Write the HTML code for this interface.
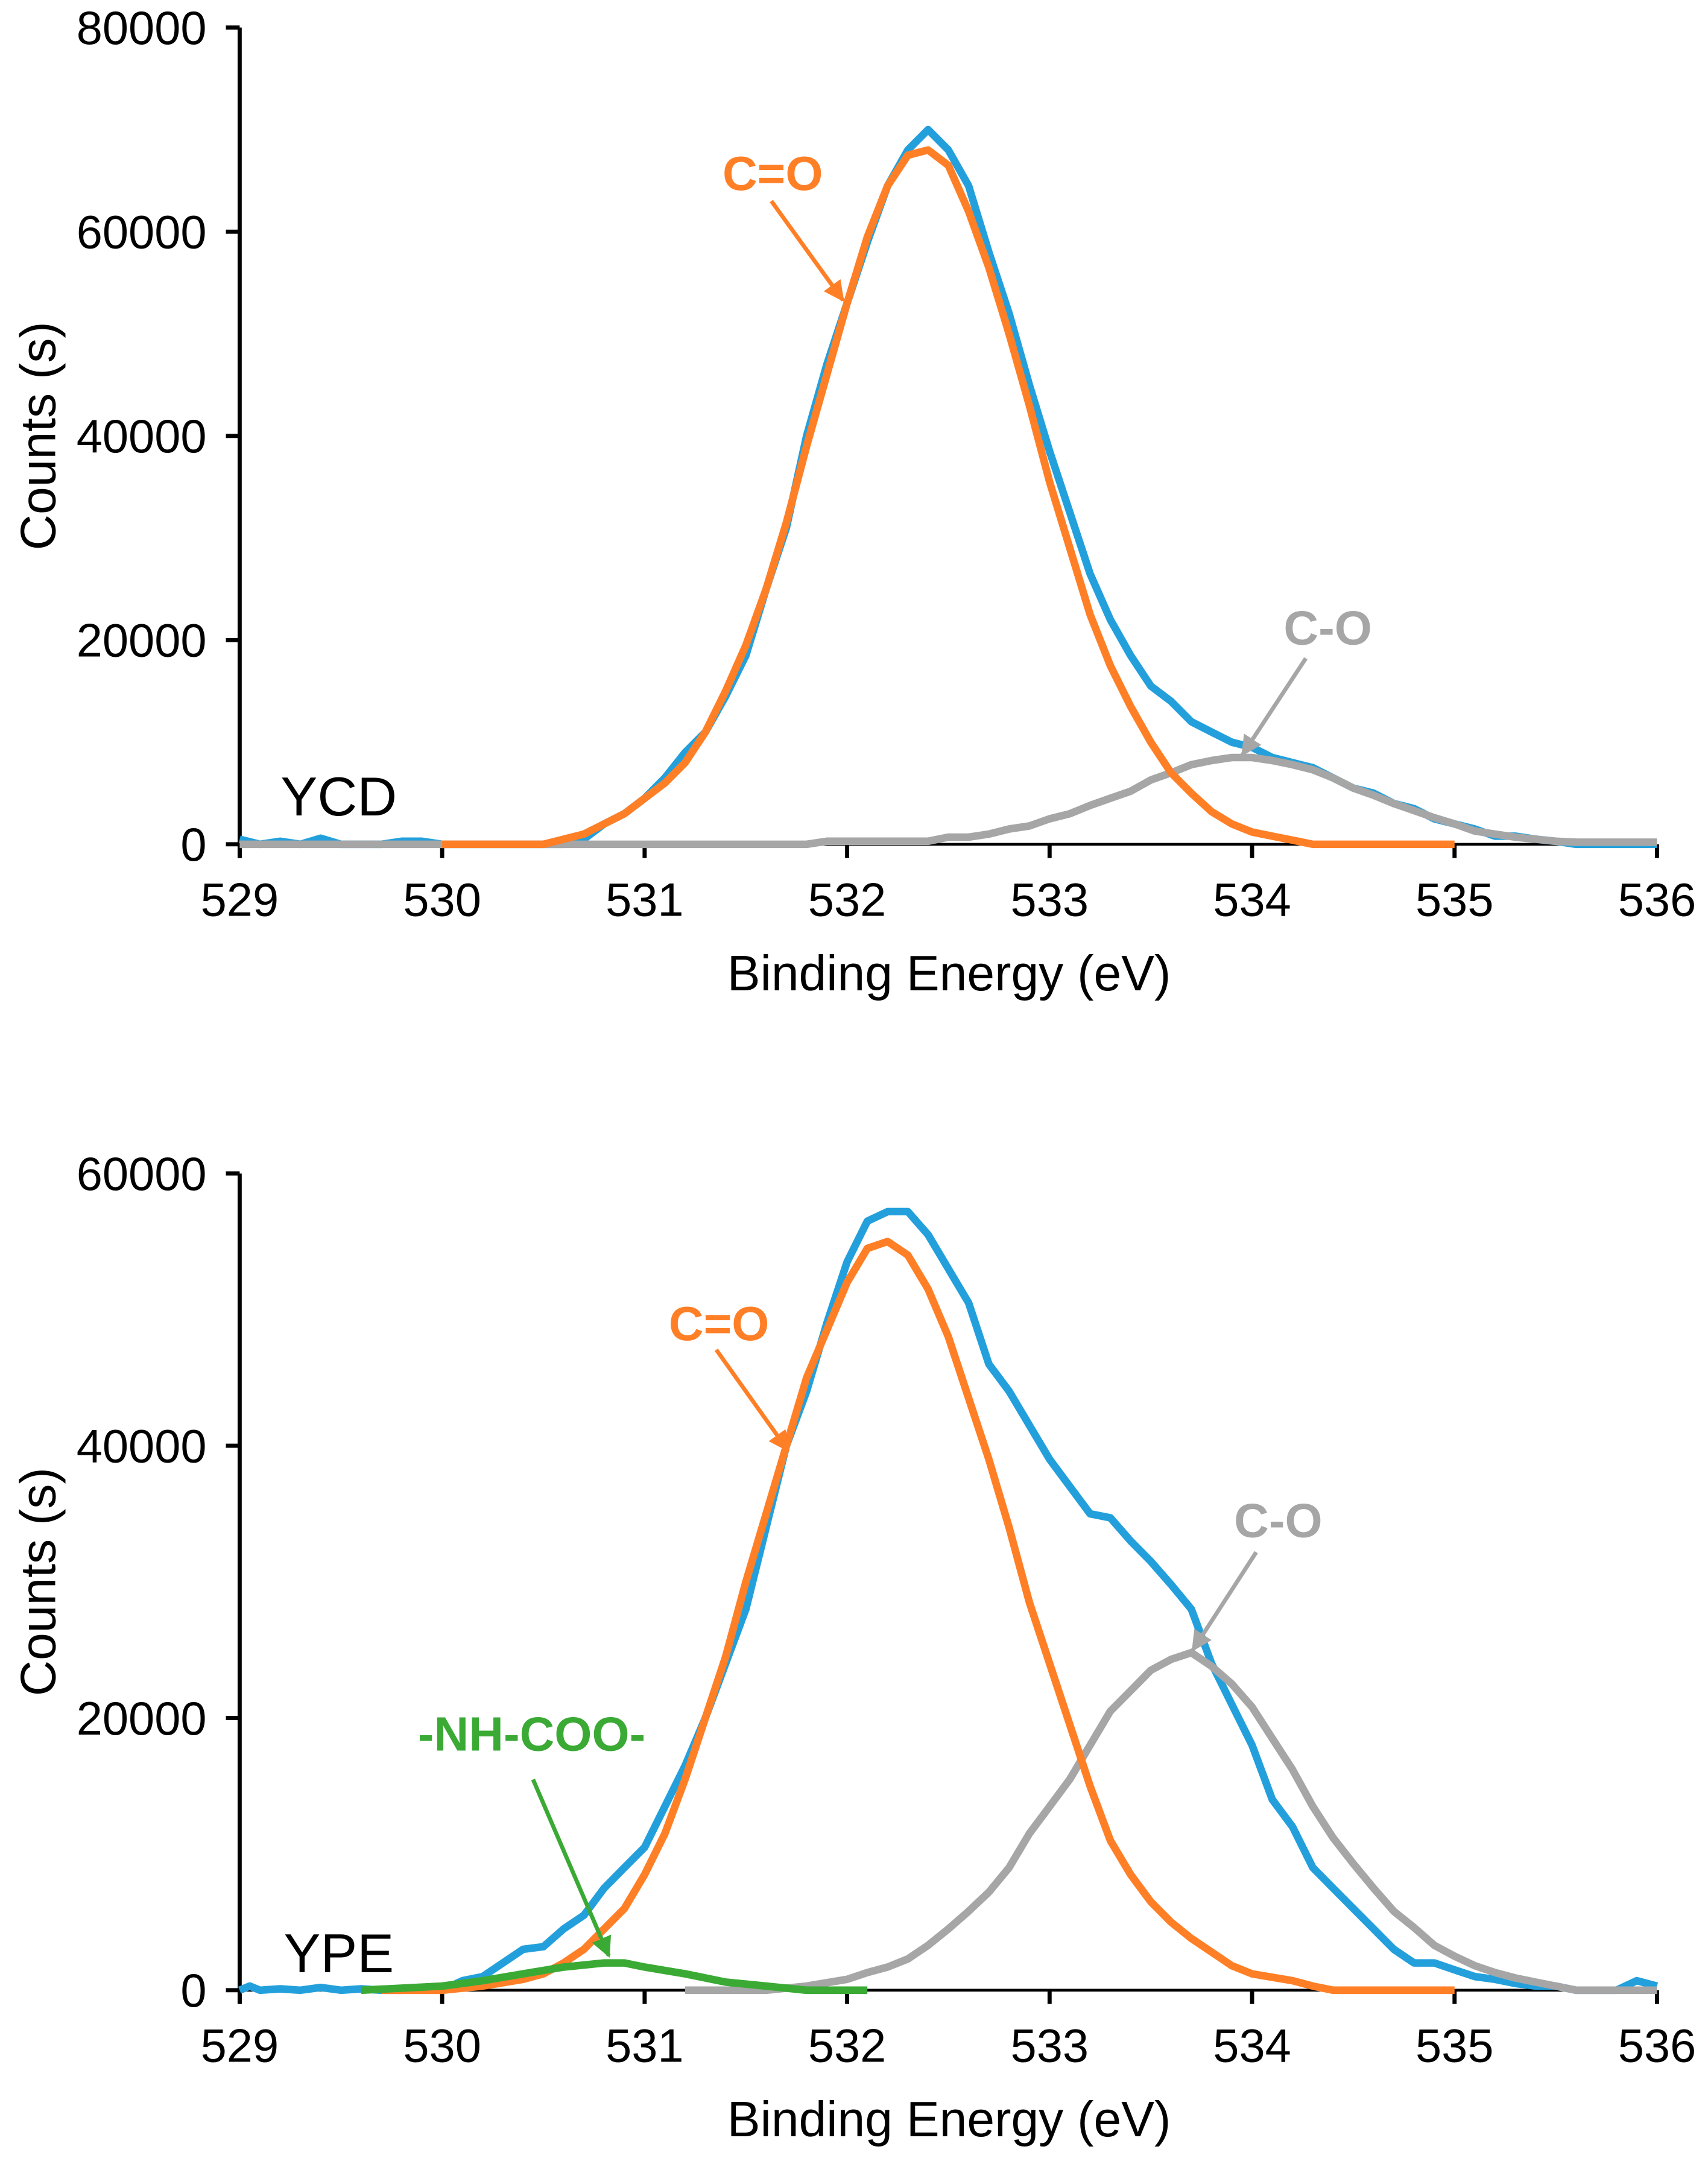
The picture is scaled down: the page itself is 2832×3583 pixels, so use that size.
<!DOCTYPE html>
<html><head><meta charset="utf-8">
<style>
html,body{margin:0;padding:0;background:#fff;}
svg{display:block;}
text{font-family:"Liberation Sans",Arial,sans-serif;}
</style></head>
<body>
<svg id="chart" width="2832" height="3583" viewBox="0 0 1240 1569" preserveAspectRatio="none" xmlns="http://www.w3.org/2000/svg">
<defs>
<marker id="ah-o" viewBox="0 0 10 10" refX="9" refY="5" markerWidth="5" markerHeight="5" orient="auto"><path d="M0,0 L10,5 L0,10 z" fill="#ff7f27"/></marker>
<marker id="ah-g" viewBox="0 0 10 10" refX="9" refY="5" markerWidth="5" markerHeight="5" orient="auto"><path d="M0,0 L10,5 L0,10 z" fill="#a6a6a6"/></marker>
<marker id="ah-gr" viewBox="0 0 10 10" refX="9" refY="5" markerWidth="5" markerHeight="5" orient="auto"><path d="M0,0 L10,5 L0,10 z" fill="#3aaa35"/></marker>
</defs>
</svg>
<script>
const xTicks=[529,530,531,532,533,534,535,536];
const yTicksTop=[0,20000,40000,60000,80000];
const yTicksBot=[0,20000,40000,60000];
const topBlueE=[529,529.1,529.2,529.3,529.4,529.5,529.6,529.7,529.8,529.9,530,530.5,530.6,530.7,530.8,530.9,531,531.1,531.2,531.3,531.4,531.5,531.6,531.7,531.8,531.9,532,532.1,532.2,532.3,532.4,532.5,532.6,532.7,532.8,532.9,533,533.1,533.2,533.3,533.4,533.5,533.6,533.7,533.8,533.9,534,534.1,534.2,534.3,534.4,534.5,534.6,534.7,534.8,534.9,535,535.1,535.2,535.3,535.4,535.5,535.6,536];
const topBlueC=[500,0,300,0,600,0,0,0,300,300,0,0,0,500,2000,3000,4500,6500,9000,11000,14500,18500,25000,31000,40000,47000,53000,59000,64500,68000,70000,68000,64500,58000,52000,45000,38500,32500,26500,22000,18500,15500,14000,12000,11000,10000,9500,8500,8000,7500,6500,5500,5000,4000,3500,2500,2000,1500,800,800,500,300,0,0];
const topOrangeE=[530,530.5,530.6,530.7,530.8,530.9,531,531.1,531.2,531.3,531.4,531.5,531.6,531.7,531.8,531.9,532,532.1,532.2,532.3,532.4,532.5,532.6,532.7,532.8,532.9,533,533.1,533.2,533.3,533.4,533.5,533.6,533.7,533.8,533.9,534,534.1,534.2,534.3,535];
const topOrangeC=[0,0,500,1000,2000,3000,4500,6000,8000,11000,15000,19500,25000,31500,39000,46000,53000,59500,64500,67500,68000,66500,62000,56500,50000,43000,35500,29000,22500,17500,13500,10000,7000,5000,3200,2000,1200,800,400,0,0];
const topGrayE=[529,531.8,531.9,532.4,532.5,532.6,532.7,532.8,532.9,533,533.1,533.2,533.3,533.4,533.5,533.6,533.7,533.8,533.9,534,534.1,534.2,534.3,534.4,534.5,534.6,534.7,534.8,534.9,535,535.1,535.2,535.3,535.4,535.5,535.6,536];
const topGrayC=[0,0,300,300,700,700,1000,1500,1800,2500,3000,3800,4500,5200,6300,7000,7800,8200,8500,8500,8200,7800,7300,6500,5500,4800,4000,3300,2600,2000,1300,1000,700,500,300,200,200];
const botBlueE=[529,529.05,529.1,529.2,529.3,529.4,529.5,529.6,529.7,529.8,529.9,530,530.1,530.2,530.3,530.4,530.5,530.6,530.7,530.8,530.9,531,531.1,531.2,531.3,531.4,531.5,531.6,531.7,531.8,531.9,532,532.1,532.2,532.3,532.4,532.5,532.6,532.7,532.8,532.9,533,533.1,533.2,533.3,533.4,533.5,533.6,533.7,533.8,533.9,534,534.1,534.2,534.3,534.4,534.5,534.6,534.7,534.8,534.9,535,535.1,535.2,535.3,535.4,535.5,535.6,535.8,535.9,536];
const botBlueC=[0,300,0,100,0,200,0,100,0,0,200,0,700,1000,2000,3000,3200,4500,5500,7500,9000,10500,13500,16500,20000,24000,28000,34000,40000,44000,49000,53500,56500,57200,57200,55500,53000,50500,46000,44000,41500,39000,37000,35000,34700,33000,31500,29800,28000,24000,21000,18000,14000,12000,9000,7500,6000,4500,3000,2000,2000,1500,1000,800,500,300,300,0,0,700,300];
const botOrangeE=[529.7,530,530.2,530.4,530.5,530.6,530.7,530.8,530.9,531,531.1,531.2,531.3,531.4,531.5,531.6,531.7,531.8,531.9,532,532.1,532.2,532.3,532.4,532.5,532.6,532.7,532.8,532.9,533,533.1,533.2,533.3,533.4,533.5,533.6,533.7,533.8,533.9,534,534.2,534.3,534.4,535];
const botOrangeC=[0,0,300,800,1200,2000,3000,4500,6000,8500,11500,15500,20000,24500,30000,35000,40000,45000,48500,52000,54500,55000,54000,51500,48000,43500,39000,34000,28500,24000,19500,15000,11000,8500,6500,5000,3800,2800,1800,1200,700,300,0,0];
const botGrayE=[531.2,531.6,531.8,532,532.1,532.2,532.3,532.4,532.5,532.6,532.7,532.8,532.9,533,533.1,533.2,533.3,533.4,533.5,533.6,533.7,533.8,533.9,534,534.1,534.2,534.3,534.4,534.5,534.6,534.7,534.8,534.9,535,535.1,535.2,535.3,535.4,535.5,535.6,536];
const botGrayC=[0,0,300,800,1300,1700,2300,3300,4500,5800,7200,9000,11500,13500,15500,18000,20500,22000,23500,24300,24800,23800,22500,20800,18500,16200,13500,11200,9300,7500,5800,4600,3300,2500,1800,1300,900,600,300,0,0];
const botGreenE=[529.6,530,530.2,530.4,530.6,530.8,530.9,531,531.2,531.4,531.6,531.8,532.1];
const botGreenC=[0,300,700,1200,1700,2000,2000,1700,1200,600,300,0,0];

const NS="http://www.w3.org/2000/svg";
const svg=document.getElementById('chart');
function mk(tag,attrs,parent){const e=document.createElementNS(NS,tag);for(const k in attrs)e.setAttribute(k,attrs[k]);(parent||svg).appendChild(e);return e;}

function chart(cfg){
  const g=mk('g',{});
  
  
  const X0=174,X1=1203;
  const xs=v=>X0+(v-529)/(536-529)*(X1-X0);
  const ys=v=>cfg.yZero-(v/cfg.yMax)*(cfg.yZero-cfg.yTop);
  const ya=mk('line',{x1:X0,y1:cfg.yTop,x2:X0,y2:cfg.yZero+10,stroke:'#000','stroke-width':3},g);
  
  
  cfg.yTicks.forEach(t=>{
    mk('line',{x1:X0-10,y1:ys(t),x2:X0,y2:ys(t),stroke:'#000','stroke-width':3},g);
    const tl=mk('text',{x:150,y:ys(t)+12,'text-anchor':'end','font-size':34},g);
    tl.textContent=t;
    
    
  });
  xTicks.forEach(t=>{
    mk('line',{x1:xs(t),y1:cfg.yZero,x2:xs(t),y2:cfg.yZero+10,stroke:'#000','stroke-width':3},g);
    const tl=mk('text',{x:xs(t),y:cfg.yZero+52,'text-anchor':'middle','font-size':34},g);
    tl.textContent=t;
    
    
  });
  const xt=mk('text',{x:689,y:cfg.yZero+106,'text-anchor':'middle','font-size':36},g);
  xt.textContent='Binding Energy (eV)';
  
  
  const yc=(cfg.yTop+cfg.yZero)/2;
  const yt=mk('text',{x:40,y:yc,'text-anchor':'middle','font-size':36,transform:`rotate(-90 40 ${yc})`},g);
  yt.textContent='Counts (s)';
  
  
  const xa=mk('line',{x1:X0,y1:cfg.yZero,x2:X1,y2:cfg.yZero,stroke:'#000','stroke-width':2},g);
  
  
  cfg.series.forEach(s=>{
    const d=s.e.map((v,i)=>(i?'L':'M')+xs(v).toFixed(1)+','+ys(s.c[i]).toFixed(1)).join(' ');
    const p=mk('path',{d:d,fill:'none',stroke:s.color,'stroke-width':5.5,'stroke-linejoin':'round'},g);
    
    
  });
  cfg.notes.forEach(n=>{
    const t=mk('text',{x:n.tx,y:n.ty,'text-anchor':'middle','font-size':35,'font-weight':'bold',fill:n.color},g);
    t.textContent=n.text;
    
    
    const a=mk('line',{x1:n.a[0],y1:n.a[1],x2:n.a[2],y2:n.a[3],stroke:n.color,'stroke-width':3,'marker-end':`url(#${n.m})`},g);
    
    
  });
  const lb=mk('text',{x:246,y:cfg.labelY,'text-anchor':'middle','font-size':40},g);
  lb.textContent=cfg.label;
  
  
}

chart({name:'ycd-chart',yTop:20,yZero:613,yMax:80000,yTicks:yTicksTop,label:'YCD',labelY:592,
 series:[{name:'ycd-measured',e:topBlueE,c:topBlueC,color:'#23a0dc'},
         {name:'ycd-c-o-fit',e:topGrayE,c:topGrayC,color:'#a6a6a6'},
         {name:'ycd-c=o-fit',e:topOrangeE,c:topOrangeC,color:'#ff7f27'}],
 notes:[{name:'c=o-label',text:'C=O',tx:561,ty:138,color:'#ff7f27',m:'ah-o',a:[560,146,612,218]},
        {name:'c-o-label',text:'C-O',tx:964,ty:468,color:'#a6a6a6',m:'ah-g',a:[948,478,902,548]}]});

chart({name:'ype-chart',yTop:852,yZero:1445,yMax:60000,yTicks:yTicksBot,label:'YPE',labelY:1432,
 series:[{name:'ype-measured',e:botBlueE,c:botBlueC,color:'#23a0dc'},
         {name:'ype-c-o-fit',e:botGrayE,c:botGrayC,color:'#a6a6a6'},
         {name:'ype-c=o-fit',e:botOrangeE,c:botOrangeC,color:'#ff7f27'},
         {name:'ype-nh-coo-fit',e:botGreenE,c:botGreenC,color:'#3aaa35'}],
 notes:[{name:'c=o-label',text:'C=O',tx:522,ty:973,color:'#ff7f27',m:'ah-o',a:[520,980,572,1053]},
        {name:'c-o-label',text:'C-O',tx:928,ty:1116,color:'#a6a6a6',m:'ah-g',a:[912,1127,866,1198]},
        {name:'nh-coo-label',text:'-NH-COO-',tx:386,ty:1271,color:'#3aaa35',m:'ah-gr',a:[387,1292,442,1420]}]});
</script>
</body></html>
